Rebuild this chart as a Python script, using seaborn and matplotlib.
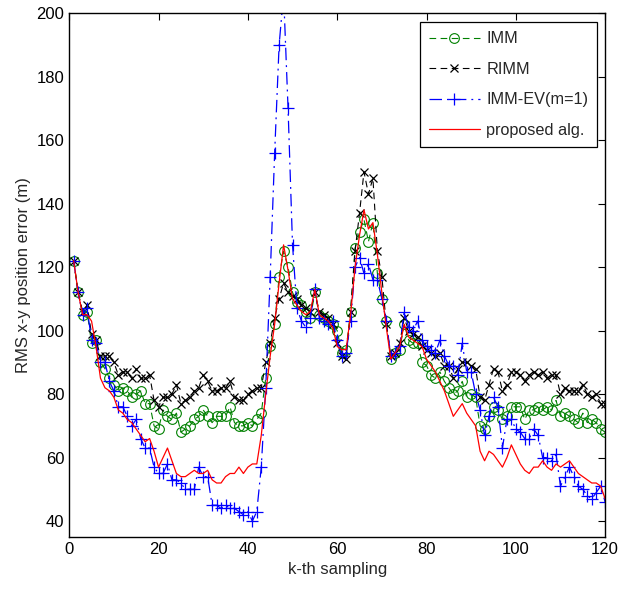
import numpy as np
import pandas as pd
import matplotlib
matplotlib.use("Agg")
import matplotlib.pyplot as plt
import seaborn as sns

# sample index
k = list(range(1, 121))

imm = [122, 112, 105, 106, 96, 97, 90, 88, 85, 83, 81, 82, 81, 79, 80, 81, 77, 77, 70, 69,
       75, 73, 72, 74, 68, 69, 70, 72, 73, 75, 73, 71, 73, 73, 73, 76, 71, 70, 70, 71,
       70, 72, 74, 85, 95, 102, 117, 125, 120, 112, 109, 108, 106, 104, 112, 105, 104, 103, 102, 100,
       93, 94, 106, 126, 131, 135, 128, 134, 118, 110, 103, 91, 93, 94, 102, 97, 96, 96, 90, 89,
       86, 85, 87, 84, 82, 80, 81, 84, 79, 80, 79, 70, 69, 73, 76, 75, 72, 73, 76, 76,
       76, 72, 75, 75, 76, 75, 76, 75, 78, 73, 74, 73, 72, 71, 74, 71, 72, 71, 69, 68]

rimm = [122, 112, 106, 108, 99, 97, 92, 92, 92, 90, 86, 87, 87, 85, 88, 85, 85, 86, 78, 76,
        79, 79, 80, 83, 77, 78, 79, 81, 82, 86, 84, 81, 81, 82, 82, 84, 79, 78, 78, 80,
        81, 82, 82, 90, 96, 104, 110, 115, 112, 111, 110, 108, 107, 106, 112, 106, 105, 104, 102, 96,
        92, 91, 106, 125, 137, 150, 143, 148, 125, 117, 102, 92, 93, 96, 104, 100, 99, 98, 95, 94,
        93, 92, 93, 89, 89, 85, 88, 90, 90, 89, 88, 79, 78, 83, 88, 87, 81, 83, 87, 87,
        86, 84, 86, 87, 86, 87, 85, 86, 86, 80, 82, 81, 81, 81, 83, 80, 79, 80, 77, 77]

imm_ev = [122, 112, 105, 107, 97, 96, 90, 90, 84, 81, 76, 76, 73, 70, 72, 66, 63, 63, 57, 55,
          55, 58, 53, 53, 52, 50, 50, 50, 57, 54, 54, 45, 45, 44, 45, 44, 44, 43, 42, 43,
          40, 43, 57, 82, 117, 156, 190, 206, 170, 127, 107, 103, 101, 104, 113, 104, 103, 102, 103, 97,
          92, 93, 103, 120, 123, 118, 121, 116, 116, 110, 103, 92, 93, 95, 106, 101, 100, 103, 97, 95,
          94, 93, 97, 92, 89, 89, 86, 96, 87, 87, 80, 75, 67, 73, 79, 76, 63, 72, 72, 69,
          68, 66, 66, 69, 67, 60, 60, 59, 61, 51, 54, 57, 54, 51, 50, 48, 47, 49, 51, 46]

proposed = [122, 112, 105, 105, 103, 95, 85, 82, 81, 79, 75, 74, 72, 71, 69, 67, 65, 66, 62, 57,
            60, 63, 59, 55, 54, 54, 55, 56, 55, 55, 56, 53, 52, 52, 54, 55, 55, 57, 55, 57,
            58, 58, 67, 80, 92, 102, 115, 127, 119, 110, 108, 106, 105, 106, 113, 105, 104, 103, 101, 95,
            94, 94, 105, 120, 130, 138, 132, 134, 124, 112, 101, 91, 93, 95, 102, 98, 97, 96, 95, 91,
            89, 87, 84, 81, 77, 73, 75, 77, 74, 72, 70, 62, 59, 62, 61, 59, 57, 60, 64, 61,
            58, 56, 55, 57, 57, 59, 57, 56, 58, 57, 58, 59, 57, 55, 54, 53, 52, 52, 51, 47]

sns.set_style("white")
plt.rcParams['font.family'] = ['Liberation Sans', 'DejaVu Sans']

fig = plt.figure(figsize=(6.35, 5.94), dpi=100)
ax = fig.add_axes([0.109, 0.096, 0.844, 0.882])

dash = (0, (6, 4))
dashdot = (0, (10, 4, 1.5, 4))

sns.lineplot(x=k, y=imm, ax=ax, color='#008000', linestyle=dash, lw=0.8,
             marker='o', markersize=7, mfc='none', mec='#008000', mew=0.8, label='IMM')
sns.lineplot(x=k, y=rimm, ax=ax, color='black', linestyle=dash, lw=0.8,
             marker='x', markersize=5.5, mec='black', mew=0.9, label='RIMM')
sns.lineplot(x=k, y=imm_ev, ax=ax, color='#0000ff', linestyle=dashdot, lw=0.9,
             marker='+', markersize=9, mec='#0000ff', mew=0.9, label='IMM-EV(m=1)')
sns.lineplot(x=k, y=proposed, ax=ax, color='#ff0000', linestyle='-', lw=0.9,
             label='proposed alg.')

ax.set_xlim(0, 120)
ax.set_ylim(35, 200)
ax.set_xticks(range(0, 121, 20))
ax.set_yticks(range(40, 201, 20))
ax.tick_params(direction='in', top=True, right=True, length=5, width=0.8,
               labelsize=12, colors='black')
for s in ax.spines.values():
    s.set_color('black')
    s.set_linewidth(1.0)

ax.set_xlabel('k-th sampling', fontsize=12)
ax.set_ylabel('RMS x-y position error (m)', fontsize=12)

leg = ax.legend(loc='upper right', bbox_to_anchor=(0.985, 0.982), borderaxespad=0,
                fontsize=11.7, frameon=True, fancybox=False, edgecolor='black',
                framealpha=1, handlelength=3.1, handletextpad=0.4, borderpad=0.55,
                labelspacing=0.95)
leg.get_frame().set_linewidth(0.9)

fig.savefig('out.png', dpi=100)
